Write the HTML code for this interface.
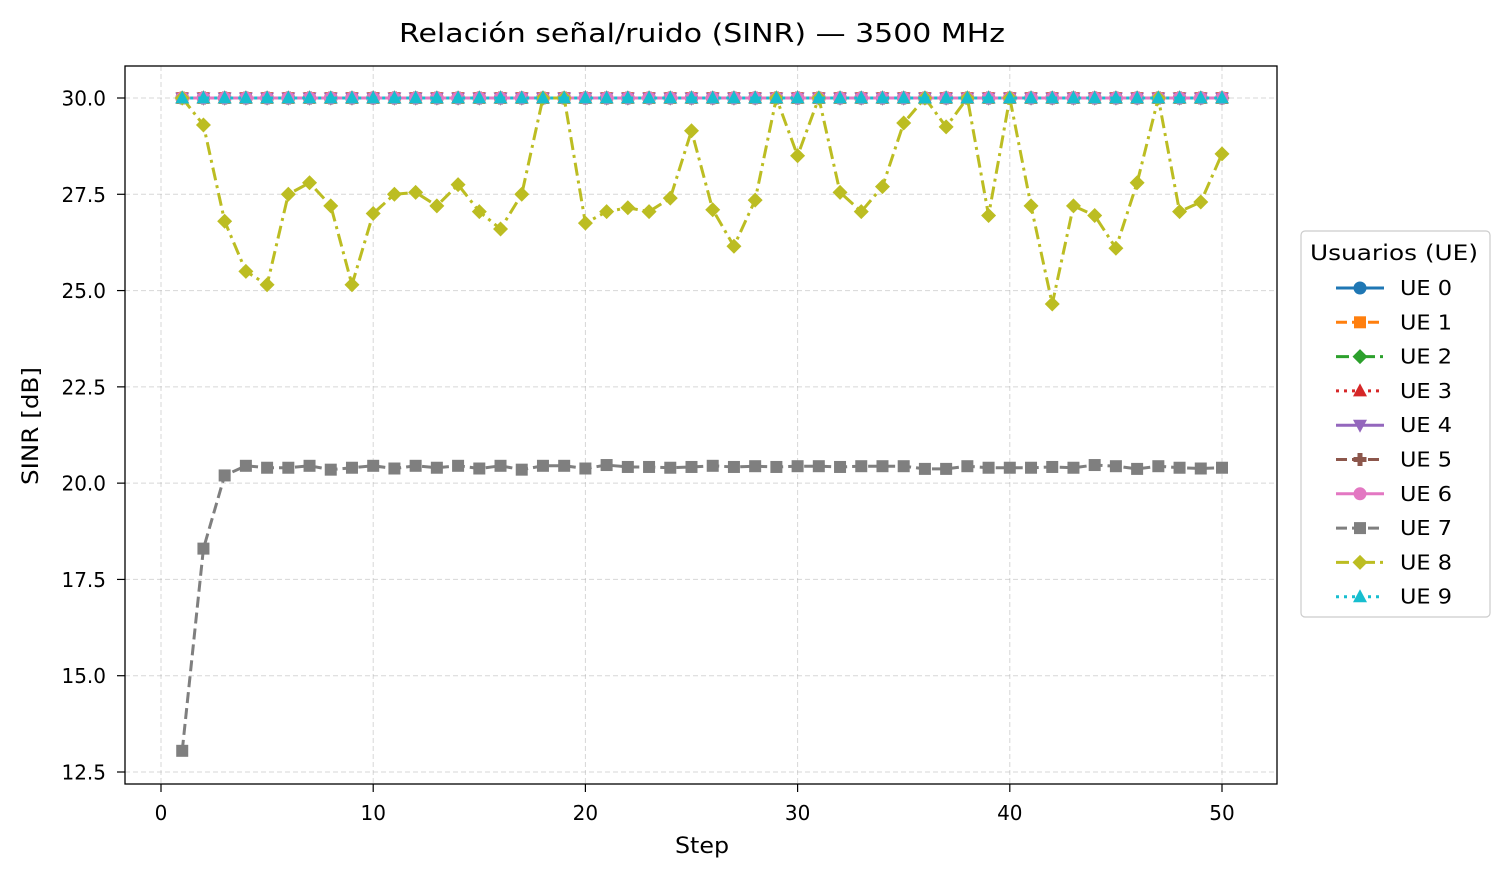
<!DOCTYPE html>
<html><head><meta charset="utf-8"><style>
body{margin:0;background:#fff;font-family:"Liberation Sans","DejaVu Sans",sans-serif}
svg text{font-family:"DejaVu Sans","Liberation Sans",sans-serif}
</style></head><body>
<svg id="chart" width="1507" height="877" xmlns="http://www.w3.org/2000/svg"></svg>
<script>
const steps = Array.from({length:50},(_,i)=>i+1);
const ueNames = ["UE 0","UE 1","UE 2","UE 3","UE 4","UE 5","UE 6","UE 7","UE 8","UE 9"];
const flat30 = steps.map(()=>30);
const ue7 = [13.05,18.3,20.2,20.45,20.4,20.4,20.45,20.35,20.4,20.45,20.38,20.45,20.4,20.45,20.38,20.45,20.35,20.45,20.45,20.38,20.47,20.42,20.42,20.4,20.42,20.45,20.42,20.44,20.42,20.44,20.44,20.42,20.44,20.44,20.44,20.37,20.37,20.44,20.4,20.4,20.4,20.42,20.4,20.47,20.44,20.37,20.44,20.4,20.38,20.4];
const ue8 = [30,29.3,26.8,25.5,25.15,27.5,27.8,27.2,25.15,27.0,27.5,27.55,27.2,27.75,27.05,26.6,27.5,30,30,26.75,27.05,27.15,27.05,27.4,29.15,27.1,26.15,27.35,30,28.5,30,27.55,27.05,27.7,29.35,30,29.25,30,26.95,30,27.2,24.65,27.2,26.95,26.1,27.8,30,27.05,27.3,28.55];
const seriesValues = [flat30,flat30,flat30,flat30,flat30,flat30,flat30,ue7,ue8,flat30];
const xTicks = [0,10,20,30,40,50];
const yTicks = [12.5,15.0,17.5,20.0,22.5,25.0,27.5,30.0];
const colors = ["#1f77b4","#ff7f0e","#2ca02c","#d62728","#9467bd","#8c564b","#e377c2","#7f7f7f","#bcbd22","#17becf"];
const dashStyles = ["","11,5","13,5,3,5","3,5","","11,5","","11,5","13,5,3,5","3,5"];
const markers = ["o","s","D","^","v","P","o","s","D","^"];
const L=125,R=1277,T=66,B=784;
const xs=v=>161+(v-0)*(1222-161)/50;
const ys=v=>98+(30-v)*(772-98)/17.5;
const svg=document.getElementById('chart');
const NS="http://www.w3.org/2000/svg";
function el(tag,attrs,parent){const e=document.createElementNS(NS,tag);for(const k in attrs)e.setAttribute(k,attrs[k]);(parent||svg).appendChild(e);return e;}
function marker(type,x,y,c,parent){
  const s=6.5;let e;
  if(type=="o") e=el('circle',{cx:x,cy:y,r:s,fill:c},parent);
  else if(type=="s") e=el('rect',{x:x-s+0.5,y:y-s+0.5,width:2*s-1,height:2*s-1,fill:c},parent);
  else if(type=="D") e=el('polygon',{points:`${x},${y-7.5} ${x+7.5},${y} ${x},${y+7.5} ${x-7.5},${y}`,fill:c},parent);
  else if(type=="^") e=el('polygon',{points:`${x},${y-7.5} ${x+7},${y+5.5} ${x-7},${y+5.5}`,fill:c},parent);
  else if(type=="v") e=el('polygon',{points:`${x},${y+7.5} ${x+7},${y-5.5} ${x-7},${y-5.5}`,fill:c},parent);
  else e=el('polygon',{points:`${x-2.5},${y-6.5} ${x+2.5},${y-6.5} ${x+2.5},${y-2.5} ${x+6.5},${y-2.5} ${x+6.5},${y+2.5} ${x+2.5},${y+2.5} ${x+2.5},${y+6.5} ${x-2.5},${y+6.5} ${x-2.5},${y+2.5} ${x-6.5},${y+2.5} ${x-6.5},${y-2.5} ${x-2.5},${y-2.5}`,fill:c},parent);
  return e;
}
const grid=el('g',{});


xTicks.forEach(t=>el('line',{x1:xs(t),x2:xs(t),y1:T,y2:B,stroke:"#b0b0b0","stroke-width":1,"stroke-dasharray":"5,3",opacity:0.5},grid));
yTicks.forEach(t=>el('line',{x1:L,x2:R,y1:ys(t),y2:ys(t),stroke:"#b0b0b0","stroke-width":1,"stroke-dasharray":"5,3",opacity:0.5},grid));
seriesValues.forEach((vals,i)=>{
  const g=el('g',{});
  
  
  const pts=vals.map((v,j)=>xs(steps[j])+","+ys(v)).join(" ");
  el('polyline',{points:pts,fill:"none",stroke:colors[i],"stroke-width":3,"stroke-dasharray":dashStyles[i],"stroke-linejoin":"round"},g);
  vals.forEach((v,j)=>{const m=marker(markers[i],xs(steps[j]),ys(v),colors[i],g);
    
    });
});
const frame=el('rect',{x:L,y:T,width:R-L,height:B-T,fill:"none",stroke:"#000","stroke-width":1.3});


xTicks.forEach(t=>{el('line',{x1:xs(t),x2:xs(t),y1:B,y2:B+8,stroke:"#000","stroke-width":1.2});
  const tx=el('text',{x:xs(t),y:B+36,"text-anchor":"middle","font-size":20});tx.textContent=t;
  
  });
yTicks.forEach(t=>{el('line',{x1:L-8,x2:L,y1:ys(t),y2:ys(t),stroke:"#000","stroke-width":1.2});
  const tx=el('text',{x:L-19,y:ys(t)+7.5,"text-anchor":"end","font-size":20});tx.textContent=t.toFixed(1);
  
  });
let t=el('text',{x:702,y:42,"text-anchor":"middle","font-size":26,textLength:606,lengthAdjust:"spacingAndGlyphs"});t.textContent="Relación señal/ruido (SINR) — 3500 MHz";


t=el('text',{x:702,y:853,"text-anchor":"middle","font-size":22,textLength:54,lengthAdjust:"spacingAndGlyphs"});t.textContent="Step";


t=el('text',{x:38,y:426,"text-anchor":"middle","font-size":22,textLength:118,lengthAdjust:"spacingAndGlyphs",transform:"rotate(-90 38 426)"});t.textContent="SINR [dB]";


const lg=el('g',{});


el('rect',{x:1301,y:231,width:189,height:386,rx:4,fill:"#fff",stroke:"#ccc","stroke-width":1.2},lg);
t=el('text',{x:1394,y:260,"text-anchor":"middle","font-size":21,textLength:168,lengthAdjust:"spacingAndGlyphs"},lg);t.textContent="Usuarios (UE)";
ueNames.forEach((n,i)=>{
  const y=288+i*34.3;
  const e=el('g',{},lg);
  
  
  el('line',{x1:1336,x2:1384,y1:y,y2:y,stroke:colors[i],"stroke-width":3,"stroke-dasharray":dashStyles[i]},e);
  marker(markers[i],1360,y,colors[i],e);
  const tx=el('text',{x:1400,y:y+7,"font-size":20,textLength:52,lengthAdjust:"spacingAndGlyphs"},e);tx.textContent=n;
});
</script>
</body></html>
